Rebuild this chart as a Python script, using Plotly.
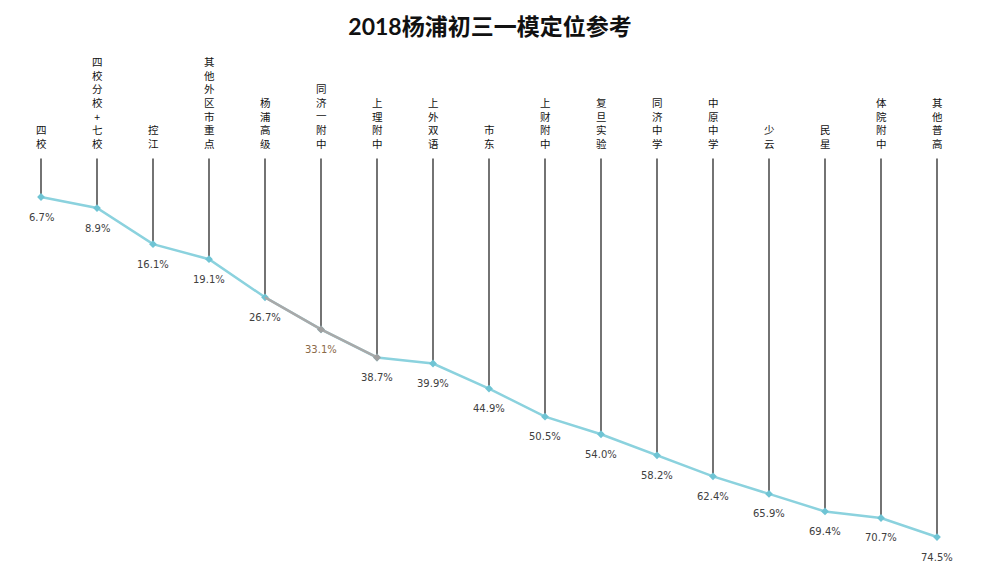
import plotly.graph_objects as go

schools = ["四校", "四校分校+七校", "控江", "其他外区市重点", "杨浦高级", "同济一附中",
           "上理附中", "上外双语", "市东", "上财附中", "复旦实验", "同济中学",
           "中原中学", "少云", "民星", "体院附中", "其他普高"]
rates = [6.7, 8.9, 16.1, 19.1, 26.7, 33.1, 38.7, 39.9, 44.9, 50.5, 54.0, 58.2,
         62.4, 65.9, 69.4, 70.7, 74.5]
title_text = "2018杨浦初三一模定位参考"

n = len(schools)
idx = list(range(n))
cyan = "#8bd2de"
gray = "#a9a9a9"

fig = go.Figure()

# vertical drop lines from top to each point
fig.add_trace(go.Scatter(
    x=idx, y=rates, mode="markers", marker=dict(size=1, color="rgba(0,0,0,0)"),
    error_y=dict(type="data", symmetric=False, array=[0] * n, arrayminus=[v + 1 for v in rates],
                 width=0, color="#000000", thickness=1.1),
    hoverinfo="skip", showlegend=False))

# main line
fig.add_trace(go.Scatter(
    x=idx, y=rates, mode="lines+markers",
    line=dict(color=cyan, width=2.5),
    marker=dict(symbol="diamond", size=6, color="#6fc4d4"),
    showlegend=False))

# gray segment
fig.add_trace(go.Scatter(
    x=idx[4:7], y=rates[4:7], mode="lines",
    line=dict(color=gray, width=2.5), showlegend=False))
fig.add_trace(go.Scatter(
    x=idx[5:7], y=rates[5:7], mode="markers",
    marker=dict(symbol="diamond", size=6, color="#a0a0a0"), showlegend=False))

annotations = []
for i, (s, v) in enumerate(zip(schools, rates)):
    annotations.append(dict(
        x=i, y=0, xref="x", yref="y", text="<br>".join(list(s)),
        showarrow=False, yanchor="bottom", xanchor="center", yshift=10,
        font=dict(family="Noto Sans CJK SC", size=10.5, color="#111111")))
    annotations.append(dict(
        x=i, y=v, xref="x", yref="y", text=f"{v:.1f}%",
        showarrow=False, yanchor="middle", xanchor="center", yshift=-20,
        font=dict(family="DejaVu Sans", size=10,
                  color="#8a6a48" if i == 5 else "#404040")))

fig.update_layout(
    width=982, height=578,
    paper_bgcolor="white", plot_bgcolor="white",
    margin=dict(l=5, r=25, t=142, b=16),
    title=dict(text="<b>" + title_text + "</b>", x=482 / 982, xanchor="center",
               yref="container", y=1 - 19 / 578, yanchor="middle",
               font=dict(family="Lato, Noto Sans CJK SC", size=23, color="#111111")),
    xaxis=dict(range=[-0.5, n - 0.5], visible=False),
    yaxis=dict(range=[81.07, -2.67], visible=False),
    annotations=annotations,
)

fig.write_html("out.html")
